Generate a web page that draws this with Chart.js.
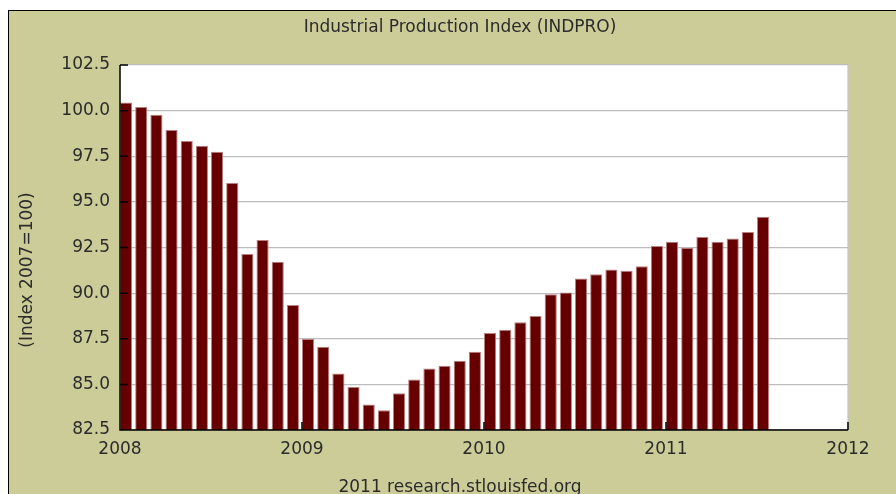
<!DOCTYPE html>
<html>
<head>
<meta charset="utf-8">
<script src="https://cdn.jsdelivr.net/npm/chart.js@4"></script>
<style>
  html, body { margin: 0; padding: 0; background: #fff; overflow: hidden; width: 896px; height: 494px; }
  #frame { position: absolute; left: 8px; top: 10px; width: 1000px; height: 600px; background: #cccc99; border-left: 1px solid #000; border-top: 1px solid #000; }
  #wrap { position: absolute; left: 0; top: 0; width: 902px; height: 500px; }
</style>
</head>
<body>
<div id="frame"><div id="wrap"><canvas id="myChart"></canvas></div></div>
<script>
// monthly values, Jan 2008 .. Jul 2011
const startYear = 2008
const indpro = [
  100.45, 100.20, 99.78, 98.94, 98.34, 98.07, 97.74, 96.03, 92.15, 92.91, 91.72, 89.35,
  87.48, 87.06, 85.60, 84.85, 83.90, 83.58, 84.51, 85.27, 85.87, 86.02, 86.29, 86.79,
  87.82, 87.99, 88.41, 88.75, 89.94, 90.03, 90.80, 91.03, 91.29, 91.23, 91.47, 92.58,
  92.82, 92.49, 93.07, 92.82, 93.00, 93.35, 94.19
]
const yearTicks = ['2008', '2009', '2010', '2011', '2012']
const yTicks = [82.5, 85.0, 87.5, 90.0, 92.5, 95.0, 97.5, 100.0, 102.5]

const FONT = 'DejaVu Sans, Verdana, sans-serif'
const TEXT = '#2b2b2b'

// months since Jan 2008, bar sits at start of its month
const points = indpro.map((v, i) => ({ x: i + 0.4, y: v }))

// white plot area with a thin grey right edge
const plotBg = {
  id: 'plotBg',
  beforeDraw(chart) {
    const { ctx, chartArea } = chart
    ctx.save()
    ctx.fillStyle = '#fff'
    ctx.fillRect(chartArea.left, chartArea.top, chartArea.width, chartArea.height)
    ctx.strokeStyle = '#c4c4c4'
    ctx.lineWidth = 1.2
    ctx.beginPath()
    ctx.moveTo(chartArea.right, chartArea.top)
    ctx.lineTo(chartArea.right, chartArea.bottom)
    ctx.stroke()
    ctx.restore()
  }
}

// axis lines + inward tick marks, drawn over the bars
const axisTicks = {
  id: 'axisTicks',
  afterDatasetsDraw(chart) {
    const { ctx, chartArea, scales } = chart
    ctx.save()
    ctx.strokeStyle = '#000'
    ctx.lineWidth = 1.5
    ctx.beginPath()
    ctx.moveTo(chartArea.left, chartArea.top)
    ctx.lineTo(chartArea.left, chartArea.bottom)
    ctx.lineTo(chartArea.right, chartArea.bottom)
    scales.y.ticks.forEach(t => {
      const py = scales.y.getPixelForValue(t.value)
      ctx.moveTo(chartArea.left, py)
      ctx.lineTo(chartArea.left + 8, py)
    })
    scales.x.ticks.forEach(t => {
      const px = scales.x.getPixelForValue(t.value)
      ctx.moveTo(px, chartArea.bottom)
      ctx.lineTo(px, chartArea.bottom - 8)
    })
    ctx.stroke()
    ctx.restore()
  }
}

// rotated y label, centred on the frame rather than the plot
const yLabel = {
  id: 'yLabel',
  afterDraw(chart) {
    const ctx = chart.ctx
    ctx.save()
    ctx.translate(19, 259)
    ctx.rotate(-Math.PI / 2)
    ctx.font = '17px ' + FONT
    ctx.fillStyle = TEXT
    ctx.textAlign = 'center'
    ctx.textBaseline = 'middle'
    ctx.fillText('(Index 2007=100)', 0, 0)
    ctx.restore()
  }
}

Chart.defaults.font.family = FONT
Chart.defaults.font.size = 17
Chart.defaults.color = TEXT

const ctx = document.getElementById('myChart').getContext('2d')
const chart = new Chart(ctx, {
  type: 'bar',
  data: {
    datasets: [{
      data: points,
      backgroundColor: '#660000',
      borderColor: '#b88080',
      borderWidth: 1,
      borderSkipped: 'start',
      barPercentage: 0.8,
      categoryPercentage: 1.0
    }]
  },
  options: {
    responsive: true,
    maintainAspectRatio: false,
    devicePixelRatio: 1,
    animation: false,
    layout: { padding: 0 },
    plugins: {
      legend: { display: false },
      tooltip: { enabled: false },
      title: {
        display: true,
        text: 'Industrial Production Index (INDPRO)',
        color: TEXT,
        font: { size: 17, weight: 'normal' },
        padding: { top: 6.8, bottom: 26.8 }
      },
      subtitle: {
        display: true,
        position: 'bottom',
        text: startYear + 3 + ' research.stlouisfed.org',
        color: TEXT,
        font: { size: 17, weight: 'normal' },
        padding: { top: 0, bottom: 12.8 }
      }
    },
    scales: {
      x: {
        type: 'linear',
        min: 0,
        max: 48,
        offset: false,
        grid: { display: false, drawTicks: false, offset: false },
        border: { display: false },
        ticks: {
          stepSize: 12,
          padding: 9,
          maxRotation: 0,
          autoSkip: false,
          callback: v => yearTicks[v / 12]
        },
        afterFit: s => { s.height = 47.8 }
      },
      y: {
        min: yTicks[0],
        max: yTicks[yTicks.length - 1],
        grid: { color: '#bdbdbd', lineWidth: 1.2, drawTicks: false },
        border: { display: false },
        ticks: {
          stepSize: 2.5,
          padding: 10,
          callback: v => v.toFixed(1)
        },
        afterFit: s => { s.width = 111 }
      },
      y2: {
        position: 'right',
        grid: { display: false, drawTicks: false },
        border: { display: false },
        ticks: { display: false },
        afterFit: s => { s.width = 63 }
      }
    }
  },
  plugins: [plotBg, axisTicks, yLabel]
})
</script>
</body>
</html>
